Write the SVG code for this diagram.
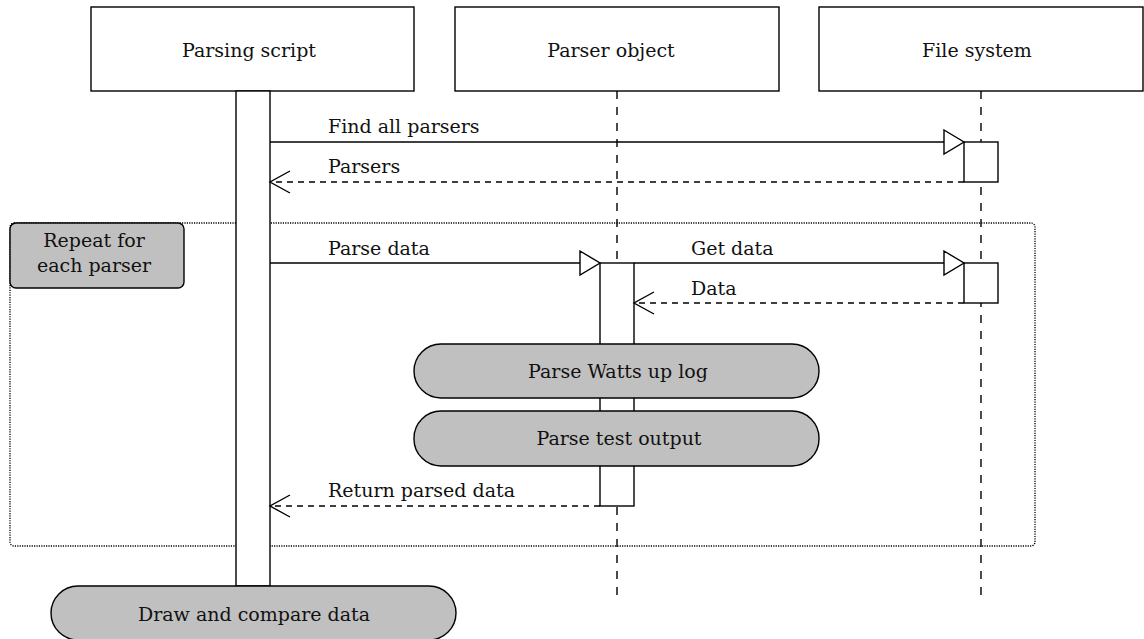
<svg xmlns="http://www.w3.org/2000/svg" width="1144" height="639" viewBox="0 0 1144 639">
<style>
  text { font-family: 'DejaVu Serif', serif; font-size: 19px; letter-spacing: 0px; fill: #111; }
  .c { text-anchor: middle; }
  .box { fill: #fff; stroke: #000; stroke-width: 1.4; }
  .pill { fill: #c0c0c0; stroke: #000; stroke-width: 1.4; }
  .life { stroke: #000; stroke-width: 1.4; stroke-dasharray: 8 8; fill: none; }
  .act { fill: #fff; stroke: #000; stroke-width: 1.4; }
  .frame { fill: none; stroke: #000; stroke-width: 1.3; stroke-dasharray: 1.2 1.2; }
  .msg { stroke: #000; stroke-width: 1.4; fill: none; }
  .ret { stroke: #000; stroke-width: 1.4; fill: none; stroke-dasharray: 6 5; }
</style>
<defs>
  <marker id="tri" viewBox="0 0 24 28" markerWidth="24" markerHeight="28" refX="21" refY="13" orient="auto" markerUnits="userSpaceOnUse">
    <path d="M1,1 L21,13 L1,25 Z" fill="#fff" stroke="#000" stroke-width="1.4" stroke-dasharray="none"/>
  </marker>
  <marker id="vee" viewBox="0 0 24 26" markerWidth="24" markerHeight="26" refX="21" refY="12" orient="auto" markerUnits="userSpaceOnUse">
    <path d="M1,1 L21,12 L1,23" fill="none" stroke="#000" stroke-width="1.4" stroke-dasharray="none"/>
  </marker>
</defs>
<rect width="1144" height="639" fill="#fff"/>

<g id="lifelines">
  <line class="life" x1="617" y1="91" x2="617" y2="598"/>
  <line class="life" x1="981" y1="91" x2="981" y2="598"/>
</g>

<g id="loop-frame">
  <rect class="frame" x="10" y="223" width="1025" height="323" rx="4"/>
  <rect class="pill" x="10" y="223" width="174" height="65" rx="6"/>
  <text class="c" x="94" y="247">Repeat for</text>
  <text class="c" x="94" y="272">each parser</text>
</g>

<g id="parsing-script">
  <rect class="box" x="91" y="7" width="323" height="84"/>
  <text class="c" x="249" y="57">Parsing script</text>
  <rect class="act" x="236" y="91" width="34" height="495"/>
</g>

<g id="parser-object">
  <rect class="box" x="455" y="7" width="324" height="84"/>
  <text class="c" x="611" y="57">Parser object</text>
  <rect class="act" x="600" y="263" width="34" height="243"/>
</g>

<g id="file-system">
  <rect class="box" x="819" y="7" width="324" height="84"/>
  <text class="c" x="977" y="57">File system</text>
  <rect class="act" x="964" y="142" width="34" height="40"/>
  <rect class="act" x="964" y="263" width="34" height="40"/>
</g>

<g id="connectors">
  <line class="msg" x1="270" y1="142" x2="964" y2="142" marker-end="url(#tri)"/>
  <text x="328" y="133">Find all parsers</text>
  <line class="ret" x1="964" y1="182" x2="270" y2="182" marker-end="url(#vee)"/>
  <text x="328" y="173">Parsers</text>
  <line class="msg" x1="270" y1="263" x2="600" y2="263" marker-end="url(#tri)"/>
  <text x="328" y="255">Parse data</text>
  <line class="msg" x1="634" y1="263" x2="964" y2="263" marker-end="url(#tri)"/>
  <text x="691" y="255">Get data</text>
  <line class="ret" x1="964" y1="303" x2="634" y2="303" marker-end="url(#vee)"/>
  <text x="691" y="295">Data</text>
  <line class="ret" x1="600" y1="506" x2="270" y2="506" marker-end="url(#vee)"/>
  <text x="328" y="497">Return parsed data</text>
</g>

<g id="parse-watts-up-log">
  <rect class="pill" x="414" y="344" width="405" height="54" rx="27"/>
  <text class="c" x="618" y="378">Parse Watts up log</text>
</g>

<g id="parse-test-output">
  <rect class="pill" x="414" y="411" width="405" height="55" rx="27"/>
  <text class="c" x="619" y="445">Parse test output</text>
</g>

<g id="draw-and-compare-data">
  <rect class="pill" x="51" y="586" width="405" height="54" rx="27"/>
  <text class="c" x="254" y="621">Draw and compare data</text>
</g>
</svg>
